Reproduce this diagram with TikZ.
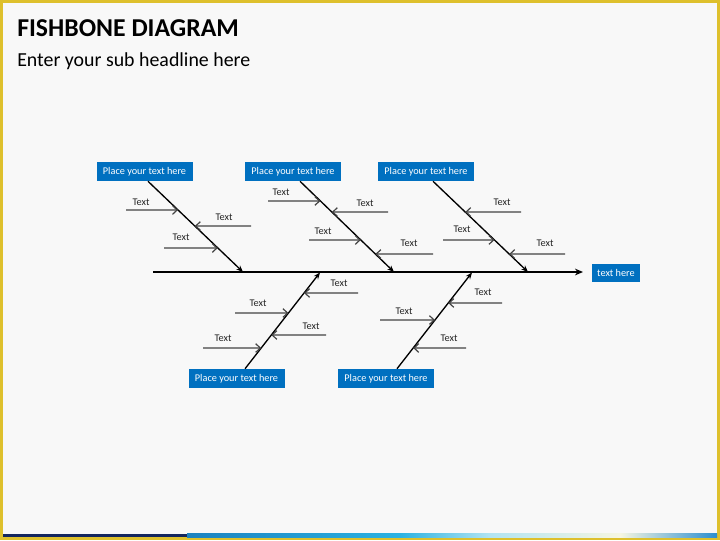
\documentclass[tikz,border=0pt]{standalone}
\usepackage{fontspec}
\setmainfont{Carlito}
\usetikzlibrary{arrows.meta, positioning}
\definecolor{frameyellow}{HTML}{DEC02C}
\definecolor{pagegray}{HTML}{F8F8F8}
\definecolor{boxblue}{HTML}{0070C0}
\definecolor{ribgray}{HTML}{444444}
\definecolor{barnavy}{HTML}{13265E}
\definecolor{barblue}{HTML}{1C82C0}
\definecolor{barcyan}{HTML}{2BB2E2}
\definecolor{barpale}{HTML}{B2E4F2}
\definecolor{barcream}{HTML}{F6F6E2}
\definecolor{barend}{HTML}{2B8ED0}

\begin{document}
\begin{tikzpicture}[x=0.75pt, y=-0.75pt,
  cause/.style={rectangle, fill=boxblue, text=white, font=\fontsize{7.7}{9}\selectfont,
                minimum width=72pt, minimum height=14.25pt, inner sep=0pt},
  lbl/.style={font=\fontsize{7.7}{9}\selectfont, text=black!85, inner sep=0pt},
  spine/.style={line width=1.4pt, -{Stealth[length=6pt, width=5pt]}},
  bone/.style={line width=1pt, -{Stealth[length=5pt, width=4pt]}},
  rib/.style={line width=0.9pt, draw=ribgray, -{Straight Barb[length=3.5pt, width=6.5pt]}}
]

% Page frame
\fill[frameyellow] (0,0) rectangle (720,540);
\fill[pagegray] (3,3) rectangle (717,537);

% Bottom colour bar
\fill[barnavy] (3,533.5) rectangle (187,537);
\shade[left color=barblue, right color=barcyan] (187,533.5) rectangle (400,537);
\shade[left color=barcyan, right color=barpale] (400,533.5) rectangle (490,537);
\shade[left color=barpale, right color=barcream] (490,533.5) rectangle (620,537);
\shade[left color=barcream, right color=barend] (620,533.5) rectangle (717,537);

% Headings
\node[anchor=base west, inner sep=0pt, font=\fontsize{19.3}{22}\selectfont\bfseries]
      (title) at (17,36) {FISHBONE DIAGRAM};
\node[anchor=base west, inner sep=0pt, font=\fontsize{14.9}{17}\selectfont]
      (subtitle) at (17,66) {Enter your sub headline here};

% Cause boxes
\node[cause] (p1) at (144.5,171.5) {Place your text here};
\node[cause] (p2) at (293,171.5)   {Place your text here};
\node[cause] (p3) at (426,171.5)   {Place your text here};
\node[cause] (p4) at (236.5,378.5) {Place your text here};
\node[cause] (p5) at (386,378.5)   {Place your text here};
\node[cause, minimum width=36pt, minimum height=13.5pt] (head) at (616,273) {text here};

% Spine
\coordinate (tail) at (153,272);
\coordinate (tip)  at (583,272);
\draw[spine] (tail) -- (tip);

% Bone ends on the spine
\coordinate (j1) at (243,272);
\coordinate (j2) at (394,272);
\coordinate (j3) at (528,272);
\coordinate (j4) at (320,272.5);
\coordinate (j5) at (472,272.5);

% Bones
\coordinate (b1) at ([xshift=2.6pt]p1.south);
\coordinate (b2) at ([xshift=5.25pt]p2.south);
\coordinate (b3) at ([xshift=5.25pt]p3.south);
\coordinate (b4) at ([xshift=6.4pt]p4.north);
\coordinate (b5) at ([xshift=8.25pt]p5.north);
\foreach \i in {1,...,5}
  \draw[bone] (b\i) -- (j\i);

% Sub-causes: y / tail x / label x / label y
\foreach \y/\t/\lx/\ly [count=\k] in {210/126/141/202, 226/251/224/217, 248/164/181/237}{
  \coordinate (r1\k) at (intersection of b1--j1 and 0,\y--720,\y);
  \coordinate (q1\k) at (\t,\y);
  \node[lbl] (l1\k) at (\lx,\ly) {Text};
  \draw[rib] (q1\k) -- (r1\k);
}
\foreach \y/\t/\lx/\ly [count=\k] in {201/268/281/192, 212/388/365/203, 240/309/323/231, 254/433/409/243}{
  \coordinate (r2\k) at (intersection of b2--j2 and 0,\y--720,\y);
  \coordinate (q2\k) at (\t,\y);
  \node[lbl] (l2\k) at (\lx,\ly) {Text};
  \draw[rib] (q2\k) -- (r2\k);
}
\foreach \y/\t/\lx/\ly [count=\k] in {212/521/502/202, 240/443/462/229, 254/565/545/243}{
  \coordinate (r3\k) at (intersection of b3--j3 and 0,\y--720,\y);
  \coordinate (q3\k) at (\t,\y);
  \node[lbl] (l3\k) at (\lx,\ly) {Text};
  \draw[rib] (q3\k) -- (r3\k);
}
\foreach \y/\t/\lx/\ly [count=\k] in {293/358/339/283, 313/235/258/303, 335/326/311/326, 348/203/223/338}{
  \coordinate (r4\k) at (intersection of b4--j4 and 0,\y--720,\y);
  \coordinate (q4\k) at (\t,\y);
  \node[lbl] (l4\k) at (\lx,\ly) {Text};
  \draw[rib] (q4\k) -- (r4\k);
}
\foreach \y/\t/\lx/\ly [count=\k] in {303/502/483/292, 320/380/404/311, 348/466/449/338}{
  \coordinate (r5\k) at (intersection of b5--j5 and 0,\y--720,\y);
  \coordinate (q5\k) at (\t,\y);
  \node[lbl] (l5\k) at (\lx,\ly) {Text};
  \draw[rib] (q5\k) -- (r5\k);
}

\end{tikzpicture}
\end{document}
